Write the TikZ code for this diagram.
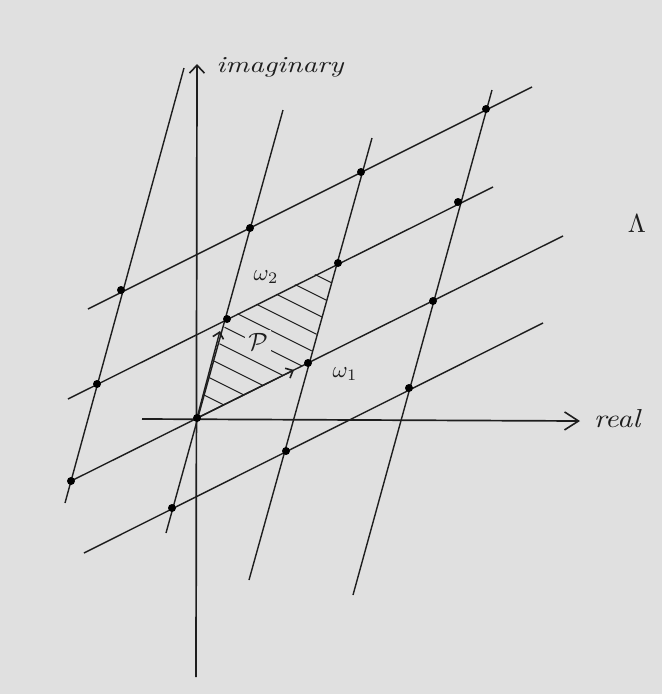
\RequirePackage{fix-cm}
\documentclass[tikz,border=0pt]{standalone}
\usetikzlibrary{arrows.meta}
\definecolor{paper}{RGB}{224,224,224}
\definecolor{ink}{RGB}{30,30,30}
\begin{document}
\begin{tikzpicture}[x=1pt,y=-1pt,
  lat/.style={draw=ink, line width=1.4pt},
  axis/.style={draw=ink, line width=1.7pt},
  dot/.style={circle, fill=black, inner sep=0pt, minimum size=8pt},
  hatch/.style={draw=ink, line width=1.1pt},
  lbl/.style={text=ink, inner sep=0pt}]
\fill[paper] (0,0) rectangle (662,694);
\useasboundingbox (0,0) rectangle (662,694);
% lattice points
\coordinate (pm0) at (71,481);
\coordinate (pm1) at (97,384);
\coordinate (pm2) at (121,290);
\coordinate (p0m) at (172,508);
\coordinate (p00) at (197,418);
\coordinate (p01) at (227,319);
\coordinate (p02) at (250,228);
\coordinate (p1m) at (286,451);
\coordinate (p10) at (308,363);
\coordinate (p11) at (338,263);
\coordinate (p12) at (361,172);
\coordinate (p2m) at (409,388);
\coordinate (p20) at (433,301);
\coordinate (p21) at (458,202);
\coordinate (p22) at (486,109);
% line ends
\coordinate (sAb) at (65,503);  \coordinate (sAt) at (184,68);
\coordinate (sBb) at (166,533); \coordinate (sBt) at (283,110);
\coordinate (sCb) at (249,580); \coordinate (sCt) at (372,138);
\coordinate (sDb) at (353,595); \coordinate (sDt) at (492,90);
\coordinate (gMl) at (84,553);  \coordinate (gMr) at (543,323);
\coordinate (g0r) at (563,236);
\coordinate (g1l) at (68,399);  \coordinate (g1r) at (493,187);
\coordinate (g2l) at (88,309);  \coordinate (g2r) at (532,87);
% hatching of the cell P
\begin{scope}
  \clip (p00) -- (p10) -- (p11) -- (p01) -- cycle;
  \foreach \c in {117,137,156,176,195,215,234,254,273,293}
    \draw[hatch] (150,{75+\c}) -- (420,{210+\c});
\end{scope}
% lattice lines
\draw[lat] (sAb) -- (sAt);
\draw[lat] (sBb) -- (sBt);
\draw[lat] (sCb) -- (sCt);
\draw[lat] (sDb) -- (sDt);
\draw[lat] (gMl) -- (gMr);
\draw[lat] (pm0) -- (g0r);
\draw[lat] (g1l) -- (g1r);
\draw[lat] (g2l) -- (g2r);
% axes
\coordinate (ib) at (196,677);
\coordinate (it) at (197,64);
\coordinate (rb) at (142,419);
\coordinate (rt) at (580,421);
\draw[axis,-{Straight Barb[length=8pt,width=15pt,line width=1.6pt]}] (ib) -- (it);
\draw[axis,-{Straight Barb[length=14pt,width=18pt,line width=1.6pt]}] (rb) -- (rt);
% period arrows
\coordinate (a1) at (294,370);
\coordinate (a2) at (220,331);
\draw[lat,-{Straight Barb[length=6pt,width=11pt,line width=1.6pt]}] (p00) -- (a1);
\draw[lat,-{Straight Barb[length=6pt,width=11pt,line width=1.6pt]}] (p00) -- (a2);
% dots
\foreach \p in {pm0,pm1,pm2,p0m,p00,p01,p02,p1m,p10,p11,p12,p2m,p20,p21,p22}
  \node[dot] (d\p) at (\p) {};
% labels
\node[lbl, fill=paper, inner sep=3pt] (P) at (258,342) {\scalebox{2.5}{$\mathcal{P}$}};
\node[lbl] (w2) at (266,277) {\scalebox{2.3}{$\omega_2$}};
\node[lbl] (w1) at (345,374) {\scalebox{2.3}{$\omega_1$}};
\node[lbl, anchor=base] (im) at (280,72) {\scalebox{2.9}[2.3]{\itshape imaginary}};
\node[lbl, anchor=base] (re) at (617,427) {\scalebox{3.0}[2.6]{\itshape real}};
\node[lbl, anchor=base] (L) at (637,232) {\scalebox{2.6}{$\Lambda$}};
\end{tikzpicture}
\end{document}
